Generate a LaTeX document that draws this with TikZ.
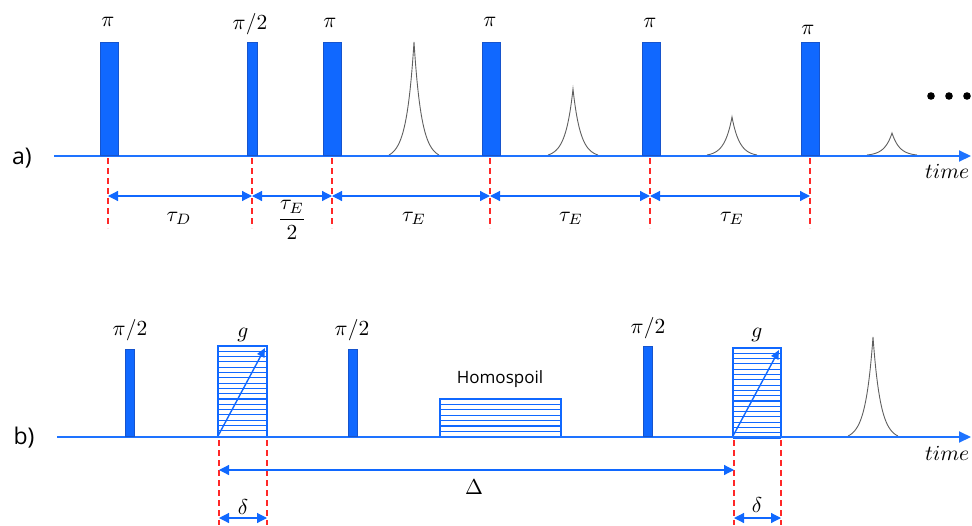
\documentclass[tikz,border=0pt]{standalone}
\usepackage{fontspec}
\newfontfamily\osans{Open Sans}
\usetikzlibrary{arrows.meta}
\newcommand{\ml}[1]{\scalebox{2.15}{$#1$}}
\definecolor{pblue}{RGB}{16,104,255}
\definecolor{pedge}{RGB}{22,84,205}
\definecolor{axblue}{RGB}{30,115,255}
\definecolor{gred}{RGB}{255,40,40}
\definecolor{egray}{RGB}{95,95,95}
\begin{document}
\begin{tikzpicture}[x=1pt,y=-1pt,
  pulse/.style={draw=pedge,line width=1pt,fill=pblue,inner sep=0pt,anchor=south},
  hbox/.style={draw=pblue,line width=1.8pt},
  hatch/.style={draw=pblue,line width=1.1pt},
  axisline/.style={draw=axblue,line width=2pt,-{Triangle[length=12pt,width=11pt]}},
  guide/.style={draw=gred,line width=1.6pt,dash pattern=on 6pt off 4pt},
  dimarrow/.style={draw=pblue,line width=1.2pt,{Triangle[length=10pt,width=10pt]}-{Triangle[length=10pt,width=10pt]}},
  echo/.style={draw=egray,line width=0.9pt},
  lbl/.style={inner sep=0pt},
  panel/.style={inner sep=0pt,font=\osans\fontsize{23}{26}\selectfont},
  sans/.style={inner sep=0pt,font=\osans\fontsize{17}{20}\selectfont}]
\useasboundingbox (0,0) rectangle (972,525);

% ================= panel a =================
\node[panel] (la) at (22,158) {a)};
\coordinate (a0) at (54,156);
\coordinate (a1) at (971,156);
% echoes
\foreach \c/\h in {414/113,573/66,732/38,892/22}{
  \draw[echo] plot[domain=-25:25,samples=121] ({\c+\x},{155-\h*(exp(-abs(\x)/7.5)-0.0357)/0.9643});
}
\draw[axisline] (a0) -- (a1);
% pulses
\node[pulse,minimum width=18pt,minimum height=113pt] (pa1) at (109,156) {};
\node[pulse,minimum width=10pt,minimum height=113pt] (pa2) at (252,156) {};
\node[pulse,minimum width=18pt,minimum height=113pt] (pa3) at (332,156) {};
\node[pulse,minimum width=18pt,minimum height=113pt] (pa4) at (491,156) {};
\node[pulse,minimum width=18pt,minimum height=113pt] (pa5) at (651,156) {};
\node[pulse,minimum width=18pt,minimum height=113pt] (pa6) at (810,156) {};
% pulse labels
\node[lbl] (ta1) at (108,22) {\ml{\pi}};
\node[lbl] (ta2) at (250,24) {\ml{\pi/2}};
\node[lbl] (ta3) at (330,23) {\ml{\pi}};
\node[lbl] (ta4) at (490,22) {\ml{\pi}};
\node[lbl] (ta5) at (650,23) {\ml{\pi}};
\node[lbl] (ta6) at (808,30) {\ml{\pi}};
% dots
\foreach \xx [count=\i] in {931,949,967}{\fill (\xx,96) circle (3.8pt);}
\node[lbl,anchor=west] (tma) at (925,171) {\ml{time}};
% guides
\foreach \xx [count=\i] in {108,252,332,490,650,810}{
  \coordinate (ga\i) at (\xx,196);
  \draw[guide] (\xx,158) -- (\xx,228);
}
\draw[dimarrow] (ga1) -- (ga2);
\draw[dimarrow] (ga2) -- (ga3);
\draw[dimarrow] (ga3) -- (ga4);
\draw[dimarrow] (ga4) -- (ga5);
\draw[dimarrow] (ga5) -- (ga6);
\node[lbl] (da1) at (179,218) {\ml{\tau_D}};
\node[lbl] (da2) at (292,220) {\ml{\displaystyle\frac{\tau_E}{2}}};
\node[lbl] (da3) at (414,218) {\ml{\tau_E}};
\node[lbl] (da4) at (571,218) {\ml{\tau_E}};
\node[lbl] (da5) at (732,218) {\ml{\tau_E}};

% ================= panel b =================
\node[panel] (lb) at (24,438) {b)};
\coordinate (b0) at (57,437);
\coordinate (b1) at (971,437);
\draw[echo] plot[domain=-25:25,samples=121] ({873+\x},{436-99*(exp(-abs(\x)/7.5)-0.0357)/0.9643});
% gradient boxes
\foreach \xl/\xr/\yt [count=\i] in {218/267/346,733/781/348}{
  \foreach \yy in {0,...,16}{
    \draw[hatch] (\xl,{\yt+5.3*(\yy+1)}) -- (\xr,{\yt+5.3*(\yy+1)});
  }
  \draw[hbox] (\xl,\yt) rectangle (\xr,437);
  \draw[draw=pblue,line width=1.4pt,-{Triangle[length=9pt,width=8pt]}] (\xl,436) -- (\xr-2,\yt+2);
}
% homospoil box
\foreach \yy in {0,...,5}{\draw[hatch] (440,{399+5.4*(\yy+1)}) -- (561,{399+5.4*(\yy+1)});}
\draw[hbox] (440,399) rectangle (561,437);
\node[sans] (hs) at (500,379) {Homospoil};
\draw[axisline] (b0) -- (b1);
% pulses
\node[pulse,minimum width=9pt,minimum height=87pt] (pb1) at (130,437) {};
\node[pulse,minimum width=9pt,minimum height=87pt] (pb2) at (353,437) {};
\node[pulse,minimum width=9pt,minimum height=90pt] (pb3) at (648,437) {};
\node[lbl] (tb1) at (130,330) {\ml{\pi/2}};
\node[lbl] (tb2) at (243,335) {\ml{g}};
\node[lbl] (tb3) at (352,330) {\ml{\pi/2}};
\node[lbl] (tb4) at (648,328) {\ml{\pi/2}};
\node[lbl] (tb5) at (757,335) {\ml{g}};
\node[lbl,anchor=west] (tmb) at (925,453) {\ml{time}};
% guides
\foreach \xx [count=\i] in {219,267,734,781}{
  \coordinate (gt\i) at (\xx,470);
  \coordinate (gd\i) at (\xx,518);
  \draw[guide] (\xx,440) -- (\xx,525);
}
\draw[dimarrow] (gt1) -- (gt3);
\draw[dimarrow] (gd1) -- (gd2);
\draw[dimarrow] (gd3) -- (gd4);
\node[lbl] (dl) at (474,487) {\ml{\Delta}};
\node[lbl] (dd1) at (243,507) {\ml{\delta}};
\node[lbl] (dd2) at (757,505) {\ml{\delta}};
\end{tikzpicture}
\end{document}
